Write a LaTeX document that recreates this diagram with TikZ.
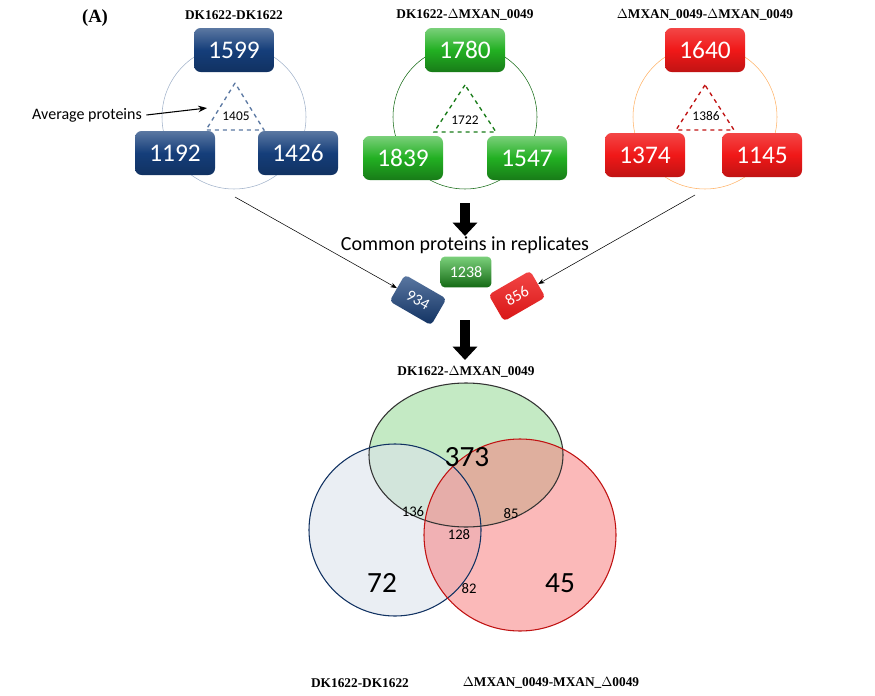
\documentclass[tikz,border=0pt]{standalone}
\usepackage{fontspec}
\setmainfont{Liberation Serif}
\newfontfamily\carl{Carlito}
\usetikzlibrary{arrows.meta}
\definecolor{bl}{HTML}{153E7A}
\definecolor{gr}{HTML}{22B022}
\definecolor{rd}{HTML}{F01818}
\begin{document}
\begin{tikzpicture}[x=0.75pt,y=-0.75pt,
 box/.style={rounded corners=5pt,minimum width=60pt,minimum height=33pt,text=white,font=\carl\fontsize{19}{19}\selectfont},
 bbox/.style={box,top color=bl!70!white,bottom color=bl!80!black,middle color=bl},
 gbox/.style={box,top color=gr!60!white,bottom color=gr!70!black,middle color=gr},
 rbox/.style={box,top color=rd!80!white,bottom color=rd!80!black,middle color=rd},
 sbox/.style={rounded corners=3pt,minimum width=36pt,minimum height=23pt,text=white,font=\carl\fontsize{12}{12}\selectfont},
 ttl/.style={font=\bfseries\fontsize{10}{12}\selectfont},
 num/.style={font=\carl\fontsize{10}{10}\selectfont},
 tri/.style={dashed,line width=1pt},
 fat/.style={-{Triangle[width=18pt,length=10pt]},line width=7pt}]
\useasboundingbox (0,0) rectangle (875,696);
\node[font=\bfseries\fontsize{14}{14}\selectfont] (A) at (95,18) {(A)};
\node[ttl] (t1) at (234,15) {DK1622-DK1622};
\node[ttl] (t2) at (465,15) {DK1622-$\Delta$MXAN\_0049};
\node[ttl] (t3) at (705,15) {$\Delta$MXAN\_0049-$\Delta$MXAN\_0049};
% group 1
\draw[bl!40,thin] (234,117) circle (72);
\node[bbox] (b1) at (234,50) {1599};
\node[bbox] (b2) at (175,153) {1192};
\node[bbox] (b3) at (298,153) {1426};
\draw[tri,bl!70] (235,83) -- (206,130) -- (264,130) -- cycle;
\node[num] (n1) at (236,116) {1405};
\node[font=\carl\fontsize{12}{12}\selectfont] (ap) at (87,115) {Average proteins};
\draw[-{Stealth},thick] (ap.east) -- (207,108);
% group 2
\draw[gr!60!black,thin] (465,117) circle (72);
\node[gbox] (g1) at (465,50) {1780};
\node[gbox] (g2) at (403,158) {1839};
\node[gbox] (g3) at (527,158) {1547};
\draw[tri,gr!70!black] (465,85) -- (434,132) -- (496,132) -- cycle;
\node[num] (n2) at (465,120) {1722};
% group 3
\draw[orange!60,thin] (705,117) circle (72);
\node[rbox] (r1) at (705,50) {1640};
\node[rbox] (r2) at (645,155) {1374};
\node[rbox] (r3) at (762,155) {1145};
\draw[tri,rd!80!black] (705,85) -- (676,130) -- (734,130) -- cycle;
\node[num] (n3) at (706,116) {1386};
% middle
\node[sbox,top color=bl!70!white,bottom color=bl!80!black,rotate=-30] (c1) at (418,300) {934};
\node[sbox,top color=rd!80!white,bottom color=rd!90!black,rotate=30] (c3) at (517,296) {856};
\node[sbox,top color=gr!60!white,bottom color=gr!60!black,minimum width=38pt] (c2) at (466,272) {1238};
\draw[-{Stealth},thin] (235,197) -- (c1);
\draw[-{Stealth},thin] (695,195) -- (c3);
\coordinate (f1) at (465,203); \coordinate (f2) at (465,236);
\draw[fat] (f1) -- (f2);
\node[font=\carl\fontsize{15}{15}\selectfont] (cp) at (465,245) {Common proteins in replicates};
\coordinate (f3) at (465,320); \coordinate (f4) at (465,360);
\draw[fat] (f3) -- (f4);
% venn
\node[ttl] (v0) at (466,372) {DK1622-$\Delta$MXAN\_0049};
\fill[gr!45,opacity=0.6] (466,455) ellipse (97 and 72);
\fill[bl!15,opacity=0.6] (395,530) circle (86);
\fill[rd!55,opacity=0.55] (520,535) circle (96);
\draw[black!80,thick] (466,455) ellipse (97 and 72);
\draw[bl!80!black,thick] (395,530) circle (86);
\draw[rd!80!black,thick] (520,535) circle (96);
\node[font=\carl\fontsize{22}{22}\selectfont] (v1) at (467,457) {373};
\node[font=\carl\fontsize{22}{22}\selectfont] (v2) at (382,583) {72};
\node[font=\carl\fontsize{22}{22}\selectfont] (v3) at (560,583) {45};
\node[font=\carl\fontsize{11}{11}\selectfont] (v4) at (413,512) {136};
\node[font=\carl\fontsize{11}{11}\selectfont] (v5) at (459,535) {128};
\node[font=\carl\fontsize{11}{11}\selectfont] (v6) at (511,514) {85};
\node[font=\carl\fontsize{11}{11}\selectfont] (v7) at (469,589) {82};
\node[ttl] (l1) at (360,683) {DK1622-DK1622};
\node[ttl] (l2) at (551,683) {$\Delta$MXAN\_0049-MXAN\_$\Delta$0049};
\end{tikzpicture}
\end{document}
